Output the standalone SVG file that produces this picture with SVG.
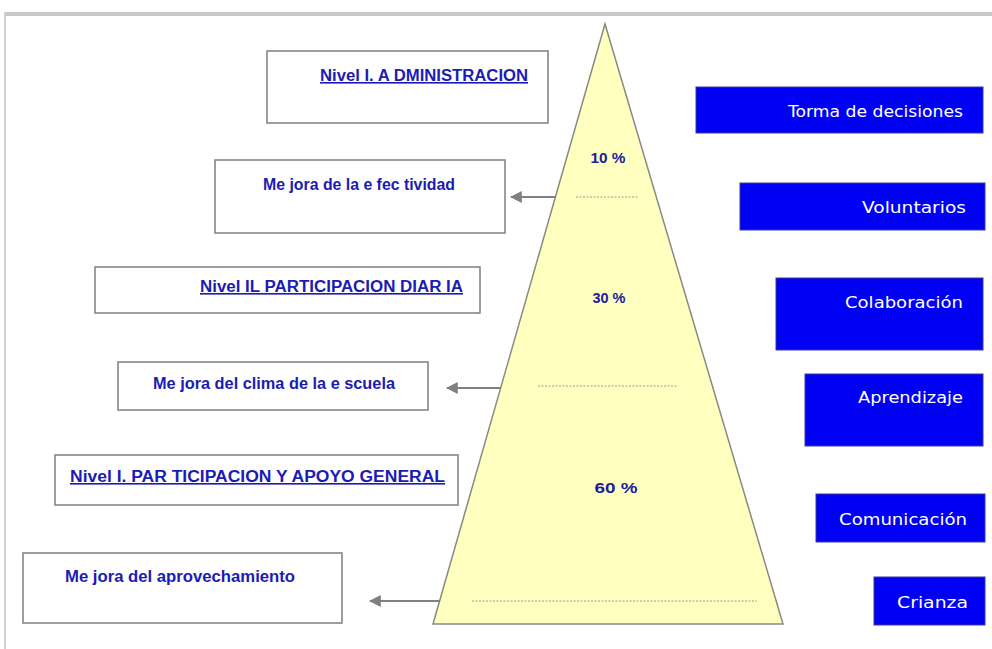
<svg xmlns="http://www.w3.org/2000/svg" width="992" height="649" viewBox="0 0 992 649">
<defs>
<style>
.wbox{fill:#ffffff;stroke:#7f7f7f;stroke-width:1.5}
.bbox{fill:#0000f5;stroke:#3a3a9a;stroke-width:1}
.lbl{font-family:"Liberation Sans",Arial,sans-serif;font-size:16px;fill:#1c1cb4;font-weight:bold}
.ul{text-decoration:underline}
.wt{font-family:"DejaVu Sans","Liberation Sans",sans-serif;font-size:15px;fill:#ffffff}
.pct{font-family:"Liberation Sans",Arial,sans-serif;font-size:14px;font-weight:bold;fill:#1c1ca0}
.conn{stroke:#808080;stroke-width:2;fill:none}
.dots{stroke:#9a9a9a;stroke-width:1;stroke-dasharray:2 1.5}
</style>
<marker id="ah" viewBox="0 0 10 10" refX="9" refY="5" markerWidth="6" markerHeight="6" orient="auto-start-reverse" markerUnits="strokeWidth">
<path d="M0,0 L10,5 L0,10 z" fill="#808080"/>
</marker>
</defs>
<rect x="0" y="0" width="992" height="649" fill="#ffffff"/>
<rect x="4" y="12" width="988" height="4" fill="#c8c8c8"/>
<rect x="4" y="12" width="2" height="637" fill="#d0d0d0"/>

<g id="pyramid">
<polygon points="605,24 433,624 783,624" fill="#ffffbf" stroke="#8a8a80" stroke-width="1.5"/>
<line class="dots" x1="576" y1="197" x2="638" y2="197"/>
<line class="dots" x1="538" y1="386" x2="678" y2="386"/>
<line class="dots" x1="472" y1="601" x2="757" y2="601"/>
<text class="pct" x="608" y="163" text-anchor="middle" textLength="35" lengthAdjust="spacingAndGlyphs">10 %</text>
<text class="pct" x="609" y="303" text-anchor="middle" textLength="33" lengthAdjust="spacingAndGlyphs">30 %</text>
<text class="pct" x="616" y="493" text-anchor="middle" textLength="43" lengthAdjust="spacingAndGlyphs">60 %</text>
</g>

<g id="connectors">
<line class="conn" x1="556" y1="197" x2="511" y2="197" marker-end="url(#ah)"/>
<line class="conn" x1="500" y1="388" x2="447" y2="388" marker-end="url(#ah)"/>
<line class="conn" x1="440" y1="601" x2="370" y2="601" marker-end="url(#ah)"/>
</g>

<g id="nivel3">
<rect class="wbox" x="267" y="51" width="281" height="72"/>
<text class="lbl ul" x="320" y="81" textLength="208" lengthAdjust="spacingAndGlyphs">Nivel I. A DMINISTRACION</text>
</g>
<g id="mejora-efectividad">
<rect class="wbox" x="215" y="160" width="290" height="73"/>
<text class="lbl" x="263" y="190" textLength="192" lengthAdjust="spacingAndGlyphs">Me jora  de la e fec tividad</text>
</g>
<g id="nivel2">
<rect class="wbox" x="95" y="267" width="385" height="46"/>
<text class="lbl ul" x="200" y="292" textLength="263" lengthAdjust="spacingAndGlyphs">Nivel IL PARTICIPACION DIAR IA</text>
</g>
<g id="mejora-clima">
<rect class="wbox" x="118" y="362" width="310" height="48"/>
<text class="lbl" x="153" y="389" textLength="242" lengthAdjust="spacingAndGlyphs">Me jora  del clima  de la e scuela</text>
</g>
<g id="nivel1">
<rect class="wbox" x="55" y="455" width="403" height="50"/>
<text class="lbl ul" x="70" y="482" textLength="375" lengthAdjust="spacingAndGlyphs">Nivel I. PAR TICIPACION Y   APOYO GENERAL</text>
</g>
<g id="mejora-aprovechamiento">
<rect class="wbox" x="23" y="553" width="319" height="70"/>
<text class="lbl" x="65" y="582" textLength="230" lengthAdjust="spacingAndGlyphs">Me jora  del aprovechamiento</text>
</g>

<g id="toma">
<rect class="bbox" x="696" y="87" width="287" height="46"/>
<text class="wt" x="963" y="117" text-anchor="end" textLength="175" lengthAdjust="spacingAndGlyphs">Torma de decisiones</text>
</g>
<g id="voluntarios">
<rect class="bbox" x="740" y="183" width="245" height="47"/>
<text class="wt" x="966" y="213" text-anchor="end" textLength="104" lengthAdjust="spacingAndGlyphs">Voluntarios</text>
</g>
<g id="colaboracion">
<rect class="bbox" x="776" y="278" width="207" height="72"/>
<text class="wt" x="963" y="308" text-anchor="end" textLength="118" lengthAdjust="spacingAndGlyphs">Colaboración</text>
</g>
<g id="aprendizaje">
<rect class="bbox" x="805" y="374" width="178" height="72"/>
<text class="wt" x="963" y="403" text-anchor="end" textLength="105" lengthAdjust="spacingAndGlyphs">Aprendizaje</text>
</g>
<g id="comunicacion">
<rect class="bbox" x="816" y="494" width="169" height="48"/>
<text class="wt" x="967" y="525" text-anchor="end" textLength="128" lengthAdjust="spacingAndGlyphs">Comunicación</text>
</g>
<g id="crianza">
<rect class="bbox" x="874" y="577" width="111" height="48"/>
<text class="wt" x="968" y="608" text-anchor="end" textLength="71" lengthAdjust="spacingAndGlyphs">Crianza</text>
</g>
</svg>
